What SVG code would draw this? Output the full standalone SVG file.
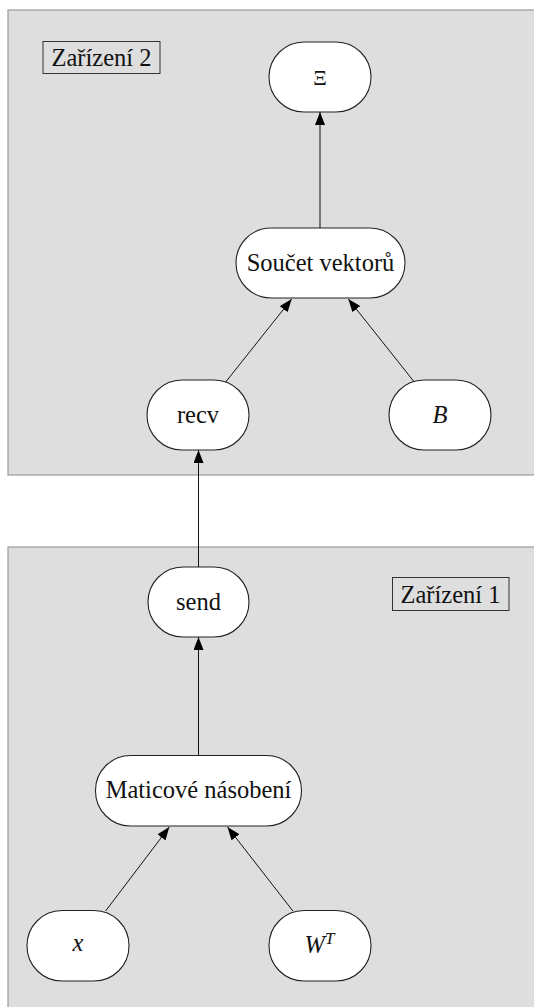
<svg xmlns="http://www.w3.org/2000/svg" width="534" height="1007" viewBox="0 0 534 1007">
  <style>
    .panel { fill: #dedede; stroke: #9a9a9a; stroke-width: 1.2; }
    .tag { fill: none; stroke: #333; stroke-width: 1; }
    .node { fill: #fff; stroke: #222; stroke-width: 1.1; }
    .edge { fill: none; stroke: #111; stroke-width: 1; marker-end: url(#arrow); }
    text { font-family: "Liberation Serif", "Times New Roman", serif; font-size: 24.5px; fill: #111; text-anchor: middle; }
    .math { font-style: italic; }
  </style>
  <defs>
    <marker id="arrow" markerUnits="userSpaceOnUse" markerWidth="14" markerHeight="11" refX="13" refY="5" orient="auto">
      <path d="M0,0 L13,5 L0,10 z" fill="#000"/>
    </marker>
  </defs>

  <!-- device panels (right side runs past the canvas edge) -->
  <g id="device2">
    <rect class="panel" x="8" y="10" width="560" height="465"/>
    <rect class="tag" x="43" y="41.5" width="117" height="32"/>
    <text x="101.5" y="65.5">Zařízení 2</text>
  </g>
  <g id="device1">
    <rect class="panel" x="8" y="547" width="560" height="480"/>
    <rect class="tag" x="392.5" y="577.5" width="116.5" height="33"/>
    <text x="450.5" y="602.5">Zařízení 1</text>
  </g>

  <!-- connectors -->
  <g id="connectors">
    <line class="edge" x1="320" y1="228" x2="320" y2="112"/>
    <line class="edge" x1="225.7" y1="382" x2="291.7" y2="299"/>
    <line class="edge" x1="414.3" y1="382" x2="348.3" y2="299"/>
    <line class="edge" x1="198.5" y1="567" x2="198.5" y2="450"/>
    <line class="edge" x1="198.5" y1="755" x2="198.5" y2="637"/>
    <line class="edge" x1="105.6" y1="911" x2="169.3" y2="827"/>
    <line class="edge" x1="292.9" y1="911" x2="227.5" y2="827"/>
  </g>

  <!-- nodes -->
  <g id="node-xi">
    <rect class="node" x="269" y="42" width="102" height="70" rx="35" ry="35"/>
    <text x="320" y="85" style="font-size:21px">Ξ</text>
  </g>
  <g id="node-soucet">
    <rect class="node" x="236" y="228" width="169" height="70" rx="35" ry="35"/>
    <text x="320.5" y="271">Součet vektorů</text>
  </g>
  <g id="node-recv">
    <rect class="node" x="147" y="380" width="102" height="70" rx="35" ry="35"/>
    <text x="198" y="423">recv</text>
  </g>
  <g id="node-b">
    <rect class="node" x="389" y="380" width="102" height="70" rx="35" ry="35"/>
    <text class="math" x="440" y="423">B</text>
  </g>
  <g id="node-send">
    <rect class="node" x="148" y="567" width="101" height="70" rx="35" ry="35"/>
    <text x="198.5" y="610">send</text>
  </g>
  <g id="node-matmul">
    <rect class="node" x="95.5" y="755.5" width="206" height="70.5" rx="35" ry="35"/>
    <text x="198.5" y="798">Maticové násobení</text>
  </g>
  <g id="node-x">
    <rect class="node" x="27" y="910.5" width="102" height="70.5" rx="35" ry="35"/>
    <text class="math" x="78" y="951">x</text>
  </g>
  <g id="node-wt">
    <rect class="node" x="269" y="910.5" width="102" height="70.5" rx="35" ry="35"/>
    <text class="math" x="319.5" y="953">W<tspan dy="-9" style="font-size:17px">T</tspan></text>
  </g>
</svg>
